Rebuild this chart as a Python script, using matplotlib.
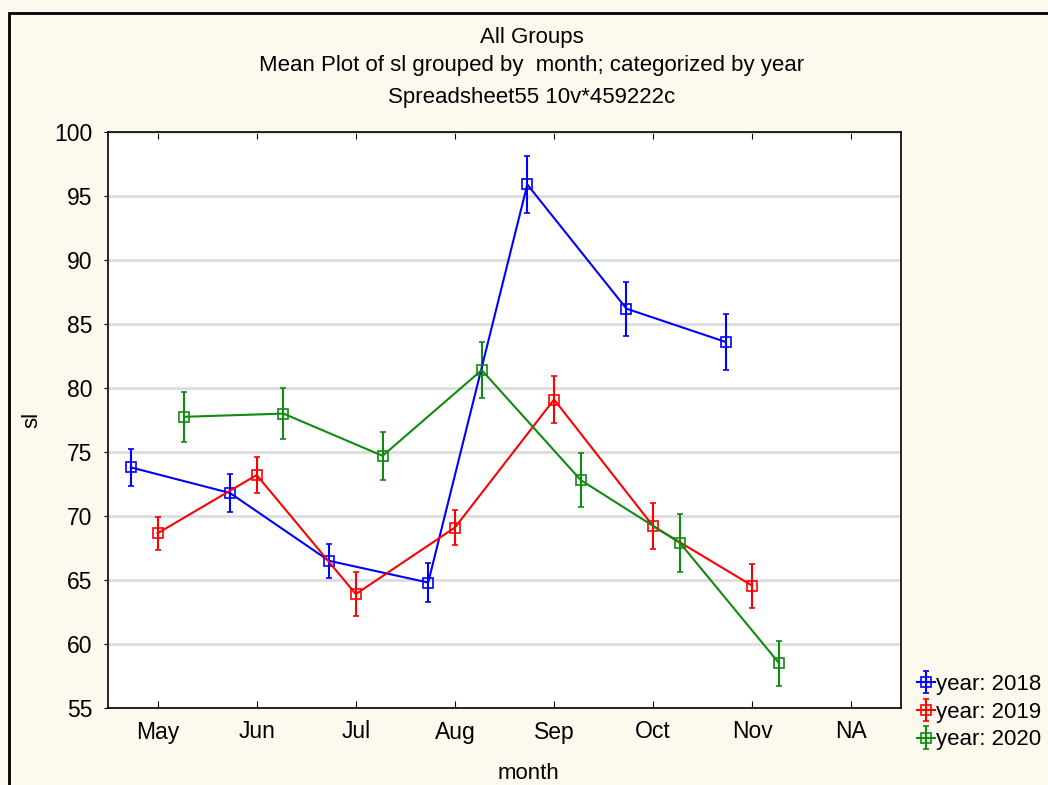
import matplotlib.pyplot as plt
import numpy as np
from matplotlib.patches import Rectangle

plt.rcParams['font.family'] = ['Liberation Sans', 'DejaVu Sans']

# Datos
months = ['May', 'Jun', 'Jul', 'Aug', 'Sep', 'Oct', 'Nov', 'NA']
years = ['2018', '2019', '2020']

mean_2018 = [73.8, 71.8, 66.5, 64.8, 95.9, 86.2, 83.6]
err_2018 = [1.45, 1.5, 1.35, 1.5, 2.25, 2.1, 2.2]
mean_2019 = [68.65, 73.2, 63.9, 69.1, 79.1, 69.2, 64.55]
err_2019 = [1.3, 1.4, 1.7, 1.4, 1.85, 1.8, 1.7]
mean_2020 = [77.75, 78.0, 74.7, 81.4, 72.8, 67.9, 58.5]
err_2020 = [1.95, 2.0, 1.9, 2.2, 2.1, 2.25, 1.75]

means = [mean_2018, mean_2019, mean_2020]
errs = [err_2018, err_2019, err_2020]
colors = ['#0000ff', '#ff0000', '#108a10']
offsets = [-0.27, 0.0, 0.27]

bg = '#fdf9ef'
fig = plt.figure(figsize=(10.48, 7.85), dpi=100, facecolor=bg)
fig.patches.append(Rectangle((9 / 1048, -0.1), 1.2, 1 - 13 / 785 + 0.1,
                             transform=fig.transFigure, fill=False,
                             edgecolor='black', linewidth=2, zorder=0))

ax = fig.add_axes([108 / 1048, 1 - 708 / 785, 793 / 1048, 576 / 785])
ax.set_facecolor('white')

for m, e, c, off, yr in zip(means, errs, colors, offsets, years):
    x = np.arange(len(m)) + off
    ax.errorbar(x, m, yerr=e, color=c, marker='s', markersize=7.5,
                markerfacecolor='none', markeredgecolor=c, markeredgewidth=1.2,
                linewidth=1.5, elinewidth=1.5, capsize=2.5, capthick=1.5,
                label='year: ' + yr)

ax.set_xlim(-0.5, len(months) - 0.5)
ax.set_ylim(55, 100)
ax.set_yticks(np.arange(55, 101, 5))
ax.set_xticks(np.arange(len(months)))
ax.set_xticklabels(months)
ax.yaxis.grid(True, color='#dddddd', linewidth=2)
ax.set_axisbelow(True)
ax.tick_params(axis='x', direction='in', top=True, labelsize=16.5, length=5, pad=9)
ax.tick_params(axis='y', direction='out', labelsize=16.5, length=3, pad=8)
for s in ax.spines.values():
    s.set_linewidth(1.2)

ax.set_xlabel('month', fontsize=16)
ax.set_ylabel('sl', fontsize=16)
ax.yaxis.set_label_coords(-0.083, 0.5)
ax.xaxis.set_label_coords(0.53, -0.095)

cx = 532 / 1048
fig.text(cx, 1 - 38 / 785, 'All Groups', ha='center', va='center', fontsize=16)
fig.text(cx, 1 - 65 / 785, 'Mean Plot of sl grouped by  month; categorized by year',
         ha='center', va='center', fontsize=16)
fig.text(cx, 1 - 97 / 785, 'Spreadsheet55 10v*459222c', ha='center', va='center', fontsize=16)

fig.legend(loc='upper left', bbox_to_anchor=(917 / 1048, 1 - 674 / 785),
           frameon=False, fontsize=16, handlelength=0.8, handletextpad=0.05,
           labelspacing=0.3, borderpad=0, borderaxespad=0)

plt.savefig('out.png', dpi=100, facecolor=bg)
